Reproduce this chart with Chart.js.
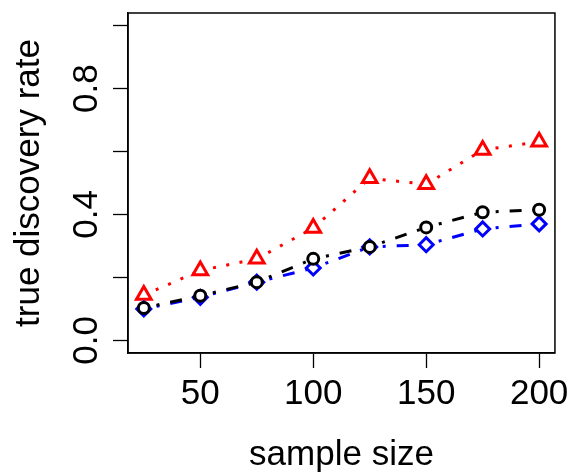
<!DOCTYPE html>
<html><head><meta charset="utf-8">
<script src="https://cdn.jsdelivr.net/npm/chart.js@4/dist/chart.umd.min.js"></script>
<style>html,body{margin:0;padding:0;background:#fff}#wrap{width:574px;height:473px}</style>
</head><body><div id="wrap"><canvas id="c" width="574" height="473"></canvas></div>
<script>
const sampleSizes = [25, 50, 75, 100, 125, 150, 175, 200];
const redTriangle = [0.144, 0.222, 0.259, 0.357, 0.515, 0.496, 0.605, 0.631];
const blackCircle = [0.103, 0.142, 0.185, 0.259, 0.297, 0.359, 0.407, 0.415];
const blueDiamond = [0.100, 0.137, 0.185, 0.230, 0.297, 0.304, 0.354, 0.370];
const xTicks = [50, 100, 150, 200];
const yTicks = [0, 0.2, 0.4, 0.6, 0.8, 1.0];
const yTickLabels = ['0.0', '', '0.4', '', '0.8', ''];
const xTitle = 'sample size';
const yTitle = 'true discovery rate';

const FONT = '"Liberation Sans", Arial, Helvetica, sans-serif';
const pts = arr => sampleSizes.map((x, i) => ({x: x, y: arr[i]}));

const rStyle = {
  id: 'rStyle',
  beforeDatasetsDraw(chart) {
    const {ctx, chartArea: a, scales: {y}} = chart;
    ctx.save();
    ctx.strokeStyle = '#000';
    ctx.lineWidth = 1.5;
    ctx.strokeRect(a.left, a.top, a.right - a.left, a.bottom - a.top);
    ctx.fillStyle = '#000';
    ctx.font = '35px ' + FONT;
    ctx.textAlign = 'center';
    ctx.textBaseline = 'alphabetic';
    yTicks.forEach((v, i) => {
      const lab = yTickLabels[i];
      if (!lab) return;
      const py = y.getPixelForValue(v);
      ctx.save();
      ctx.translate(97, py);
      ctx.rotate(-Math.PI / 2);
      ctx.fillText(lab, 0, 0);
      ctx.restore();
    });
    ctx.restore();
  }
};

new Chart(document.getElementById('c'), {
  type: 'line',
  data: {
    datasets: [
      {
        label: 'black', data: pts(blackCircle),
        borderColor: '#000', borderWidth: 3, borderDash: [3, 11, 12, 11],
        segment: {borderDashOffset: c => 24 + c.p0DataIndex * 1e-4},
        pointStyle: 'circle', pointRadius: 5.5, pointBorderWidth: 3,
        pointBorderColor: '#000', pointBackgroundColor: '#fff', tension: 0
      },
      {
        label: 'blue', data: pts(blueDiamond),
        borderColor: '#0000ff', borderWidth: 3, borderDash: [3, 11, 12, 11],
        segment: {borderDashOffset: c => 24 + c.p0DataIndex * 1e-4},
        pointStyle: 'rectRot', pointRadius: 7, pointBorderWidth: 3,
        pointBorderColor: '#0000ff', pointBackgroundColor: '#fff', tension: 0
      },
      {
        label: 'red', data: pts(redTriangle),
        borderColor: '#ff0000', borderWidth: 3, borderDash: [3, 10.5],
        segment: {borderDashOffset: c => 0.5 + c.p0DataIndex * 1e-4},
        pointStyle: 'triangle', pointRadius: 8.5, pointBorderWidth: 3,
        pointBorderColor: '#ff0000', pointBackgroundColor: '#fff', tension: 0
      }
    ]
  },
  options: {
    responsive: false,
    animation: false,
    devicePixelRatio: 1,
    layout: {padding: {left: 0, top: 13, right: 18, bottom: 0}},
    plugins: {legend: {display: false}, tooltip: {enabled: false}},
    scales: {
      x: {
        type: 'linear', min: 18, max: 207,
        afterBuildTicks: s => { s.ticks = xTicks.map(v => ({value: v})); },
        afterFit: s => { s.height = 120; },
        grid: {display: true, drawOnChartArea: false, drawTicks: true, tickLength: 15, tickColor: '#000', tickWidth: 1.3},
        border: {display: true, color: '#000', width: 1.5},
        ticks: {color: '#000', font: {family: FONT, size: 35}, padding: 5, maxRotation: 0, autoSkip: false},
        title: {display: true, text: xTitle, color: '#000', font: {family: FONT, size: 35, lineHeight: 1.0}, padding: {top: 0, bottom: 0}}
      },
      y: {
        type: 'linear', min: -0.04, max: 1.04,
        afterBuildTicks: s => { s.ticks = yTicks.map(v => ({value: v})); },
        afterFit: s => { s.width = 128; },
        grid: {display: true, drawOnChartArea: false, drawTicks: true, tickLength: 15, tickColor: '#000', tickWidth: 1.3},
        border: {display: true, color: '#000', width: 1.5},
        ticks: {color: '#000', font: {family: FONT, size: 1}, padding: 0, callback: () => ''},
        title: {display: true, text: yTitle, color: '#000', font: {family: FONT, size: 35, lineHeight: 1.7}, padding: {top: 0, bottom: 0}}
      }
    }
  },
  plugins: [rStyle]
});
</script>
</body></html>
